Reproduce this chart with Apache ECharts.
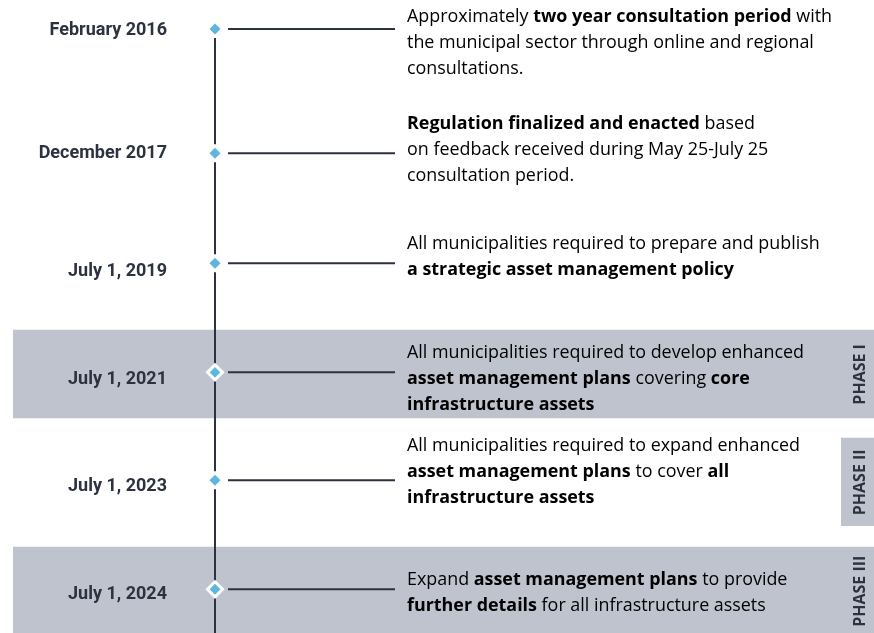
<!DOCTYPE html>
<html>
<head>
<meta charset="utf-8">
<script src="https://cdn.jsdelivr.net/npm/echarts@6/dist/echarts.min.js"></script>
<style>
html, body { margin: 0; padding: 0; background: #fff; }
#chart { width: 874px; height: 633px; }
</style>
</head>
<body>
<div id="chart"></div>
<script>
// timeline data
var dates = ['February 2016', 'December 2017', 'July 1, 2019', 'July 1, 2021', 'July 1, 2023', 'July 1, 2024'];
var rows = [0, 1.14, 2.15, 3.15, 4.14, 5.14];
// one entry per line, **...** is bold
var descriptions = [
  ['Approximately **two year consultation period** with', 'the municipal sector through online and regional', 'consultations.'],
  ['**Regulation finalized and enacted** based', 'on feedback received during May 25-July 25', 'consultation period.'],
  ['All municipalities required to prepare and publish', '**a strategic asset management policy**'],
  ['All municipalities required to develop enhanced', '**asset management plans** covering **core**', '**infrastructure assets**'],
  ['All municipalities required to expand enhanced', '**asset management plans** to cover **all**', '**infrastructure assets**'],
  ['Expand **asset management plans** to provide', '**further details** for all infrastructure assets']
];
var phaseNames = ['PHASE I', 'PHASE II', 'PHASE III'];
var phaseEvent = [3, 4, 5];
var phaseShaded = [true, false, true];

// layout tweaks (px)
var dateNudge = [2, 0, 8, 7, 6, 5];
var descTop = [-25, -42, -32, -32, -47, -22];

var inPhase = {};
phaseEvent.forEach(function (e, i) { if (phaseShaded[i]) inPhase[e] = true; });

function toRich(lines) {
  return lines.map(function (line) {
    var parts = line.split('**');
    var out = '';
    for (var i = 0; i < parts.length; i++) {
      if (!parts[i]) continue;
      out += '{' + (i % 2 ? 'b' : 'n') + '|' + parts[i] + '}';
    }
    return out;
  }).join('\n');
}

var ink = '#2c3240';
var blue = '#5cb6de';
var bandColor = '#bfc3ce';

var chart = echarts.init(document.getElementById('chart'));

var option = {
  animation: false,
  grid: { left: 0, right: 0, top: 0, bottom: 0 },
  xAxis: { type: 'value', min: 0, max: 874, show: false },
  yAxis: { type: 'value', min: -0.266, max: 5.541, inverse: true, show: false },
  series: [
    {
      // phase bands + labels
      type: 'custom',
      z: 1,
      data: phaseNames.map(function (n, i) { return [0, rows[phaseEvent[i]], i]; }),
      renderItem: function (params, api) {
        var i = api.value(2);
        var r = rows[phaseEvent[i]];
        var y0 = api.coord([0, r - 0.39])[1];
        var y1 = api.coord([0, r + 0.42])[1];
        var mid = api.coord([0, r])[1];
        var x0 = phaseShaded[i] ? 13 : 841;
        return {
          type: 'group',
          children: [
            { type: 'rect', shape: { x: x0, y: y0, width: 874 - x0 + 2, height: y1 - y0 }, style: { fill: bandColor } },
            {
              type: 'text', x: 860, y: mid + 2, rotation: Math.PI / 2,
              style: {
                text: phaseNames[i], fill: ink, align: 'center', verticalAlign: 'middle',
                font: 'bold 16px "Open Sans", sans-serif'
              }
            }
          ]
        };
      }
    },
    {
      // timeline events
      type: 'custom',
      z: 2,
      data: dates.map(function (d, i) { return [0, rows[i], i]; }),
      renderItem: function (params, api) {
        var i = api.value(2);
        var y = api.coord([0, api.value(1)])[1];
        var cx = 215;
        var big = !!inPhase[i];
        var h = big ? 7.5 : 5.5;
        var children = [];
        // spine down to next event
        var yNext = i < rows.length - 1 ? api.coord([0, rows[i + 1]])[1] - (inPhase[i + 1] ? 8 : 9) : 640;
        children.push({
          type: 'line', shape: { x1: cx, y1: y + (big ? 8 : 9), x2: cx, y2: yNext },
          style: { stroke: ink, lineWidth: 2 }
        });
        children.push({
          type: 'polygon',
          shape: { points: [[cx, y - h], [cx + h, y], [cx, y + h], [cx - h, y]] },
          style: { fill: blue, stroke: big ? '#fff' : null, lineWidth: big ? 3 : 0 }
        });
        children.push({
          type: 'line', shape: { x1: 228, y1: y, x2: 395, y2: y },
          style: { stroke: ink, lineWidth: 2 }
        });
        children.push({
          type: 'text', x: 167, y: y + dateNudge[i],
          style: {
            text: dates[i], fill: ink, align: 'right', verticalAlign: 'middle',
            font: 'bold 18px Roboto, sans-serif'
          }
        });
        children.push({
          type: 'text', x: 407, y: y + descTop[i],
          style: {
            text: toRich(descriptions[i]), align: 'left', verticalAlign: 'top',
            rich: {
              n: { fontFamily: 'Open Sans', fontSize: 17.9, color: '#3f4552', lineHeight: 26 },
              b: { fontFamily: 'Open Sans', fontSize: 17.9, fontWeight: 'bold', color: ink, lineHeight: 26 }
            }
          }
        });
        return { type: 'group', children: children };
      }
    }
  ]
};

chart.setOption(option);
</script>
</body>
</html>
